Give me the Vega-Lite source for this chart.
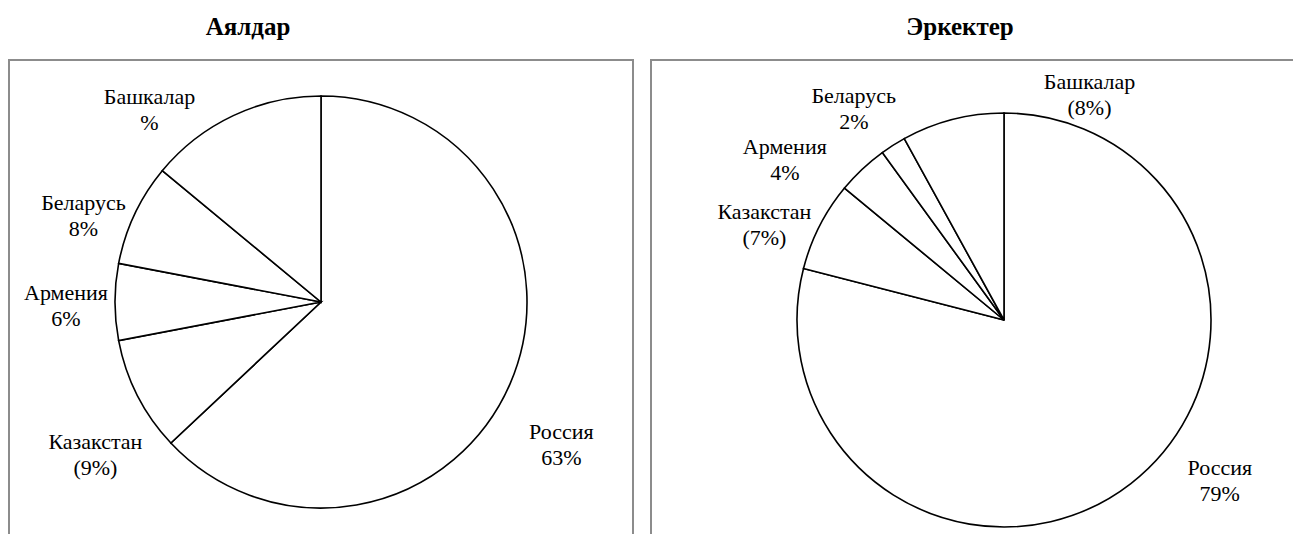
{
  "$schema": "https://vega.github.io/schema/vega-lite/v6.json",
  "background": "white",
  "padding": {"left": 8, "top": 14, "right": 0, "bottom": 0},
  "spacing": 16,
  "config": {
    "view": {"stroke": "#8c8c8c", "strokeWidth": 2},
    "font": "Times New Roman, Liberation Serif, serif",
    "text": {"font": "Times New Roman, Liberation Serif, serif"},
    "title": {"font": "Times New Roman, Liberation Serif, serif", "fontSize": 25, "fontWeight": "bold", "color": "black", "offset": 20}
  },
  "datasets": {
    "women": [
      {"country": "Россия", "share": 63, "order": 1, "label": "Россия\n63%"},
      {"country": "Казакстан", "share": 9, "order": 2, "label": "Казакстан\n(9%)"},
      {"country": "Армения", "share": 6, "order": 3, "label": "Армения\n6%"},
      {"country": "Беларусь", "share": 8, "order": 4, "label": "Беларусь\n8%"},
      {"country": "Башкалар", "share": 14, "order": 5, "label": "Башкалар\n%"}
    ],
    "men": [
      {"country": "Россия", "share": 79, "order": 1, "label": "Россия\n79%"},
      {"country": "Казакстан", "share": 7, "order": 2, "label": "Казакстан\n(7%)"},
      {"country": "Армения", "share": 4, "order": 3, "label": "Армения\n4%"},
      {"country": "Беларусь", "share": 2, "order": 4, "label": "Беларусь\n2%"},
      {"country": "Башкалар", "share": 8, "order": 5, "label": "Башкалар\n(8%)"}
    ]
  },
  "hconcat": [
    {
      "title": {"text": "Аялдар", "dx": -73},
      "width": 624,
      "height": 484,
      "view": {"stroke": "#8c8c8c", "strokeWidth": 2},
      "data": {"name": "women"},
      "encoding": {
        "theta": {"field": "share", "type": "quantitative", "stack": true},
        "order": {"field": "order", "type": "ordinal"}
      },
      "layer": [
        {"mark": {"type": "arc", "outerRadius": 206, "fill": "white", "stroke": "black", "strokeWidth": 1.6}},
        {"mark": {"type": "text", "radius": 215, "font": "Times New Roman, Liberation Serif, serif", "fontSize": 22, "lineBreak": "\n", "align": "center", "baseline": "middle",
                  "dx": {"expr": "datum.order == 1 ? 43 : datum.order == 2 ? -34 : datum.order == 3 ? -40 : datum.order == 4 ? -43 : -80"},
                  "dy": {"expr": "datum.order == 1 ? 45 : datum.order == 2 ? 42 : datum.order == 3 ? -9 : datum.order == 4 ? -7 : -10"},
                  "color": "black", "lineHeight": 26},
         "encoding": {"text": {"field": "label"}}}
      ]
    },
    {
      "title": {"text": "Эркектер", "dx": -44},
      "width": 706,
      "height": 520,
      "view": {"stroke": "#8c8c8c", "strokeWidth": 2},
      "data": {"name": "men"},
      "encoding": {
        "theta": {"field": "share", "type": "quantitative", "stack": true},
        "order": {"field": "order", "type": "ordinal"}
      },
      "layer": [
        {"mark": {"type": "arc", "outerRadius": 207, "fill": "white", "stroke": "black", "strokeWidth": 1.6}},
        {"mark": {"type": "text", "radius": 215, "font": "Times New Roman, Liberation Serif, serif", "fontSize": 22, "lineBreak": "\n", "align": "center", "baseline": "middle",
                  "dx": {"expr": "datum.order == 1 ? 84 : datum.order == 2 ? -48 : datum.order == 3 ? -72 : datum.order == 4 ? -35 : 139"},
                  "dy": {"expr": "datum.order == 1 ? -22 : datum.order == 2 ? -10 : datum.order == 3 ? -16 : datum.order == 4 ? -42 : -30"},
                  "color": "black", "lineHeight": 26},
         "encoding": {"text": {"field": "label"}}}
      ]
    }
  ]
}
